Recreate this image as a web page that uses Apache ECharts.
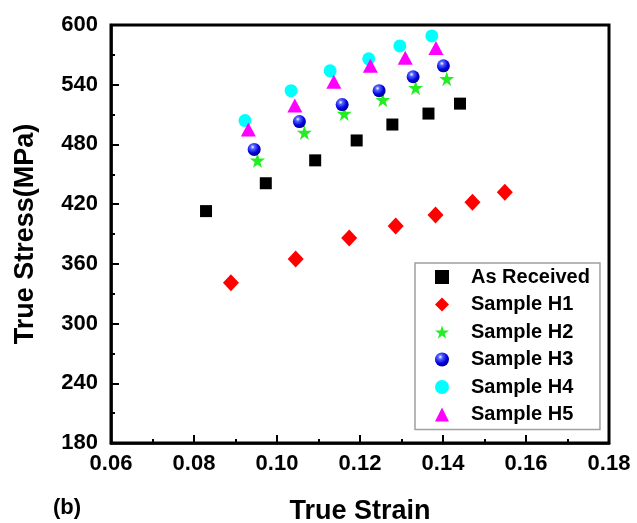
<!DOCTYPE html>
<html>
<head>
<meta charset="utf-8">
<script src="https://cdn.jsdelivr.net/npm/echarts@6/dist/echarts.min.js"></script>
<style>html,body{margin:0;padding:0;background:#fff}#c{width:637px;height:523px}</style>
</head>
<body>
<div id="c"></div>
<script>
var seriesNames = ['As Received', 'Sample H1', 'Sample H2', 'Sample H3', 'Sample H4', 'Sample H5'];
var asReceived = [[0.0829,413],[0.0973,441],[0.1092,464],[0.1192,484],[0.1278,500],[0.1365,511],[0.1441,521]];
var sampleH1 = [[0.0889,341],[0.1045,365],[0.1174,386],[0.1286,398],[0.1382,409],[0.1471,422],[0.1549,432]];
var sampleH2 = [[0.0953,464],[0.1066,492],[0.1162,511],[0.1255,525],[0.1334,537],[0.1409,546]];
var sampleH3 = [[0.0945,475],[0.1054,503],[0.1157,520],[0.1246,534],[0.1328,548],[0.1401,559]];
var sampleH4 = [[0.0923,504],[0.1034,534],[0.1128,554],[0.1221,566],[0.1296,579],[0.1373,589]];
var sampleH5 = [[0.0931,495],[0.1043,519],[0.1137,543],[0.1225,559],[0.1309,567],[0.1383,577]];
var xTicks = {min: 0.06, max: 0.18, interval: 0.02};
var yTicks = {min: 180, max: 600, interval: 60};

var FONT = '"Liberation Sans", Arial, sans-serif';
var starPath = 'path://M50,0 L61,35 L98,35 L68,57 L79,91 L50,70 L21,91 L32,57 L2,35 L39,35 Z';
var sphere = {type:'radial', x:0.38, y:0.32, r:0.72, colorStops:[
  {offset:0, color:'#ffffff'}, {offset:0.22, color:'#5566ff'},
  {offset:0.65, color:'#0000e0'}, {offset:1, color:'#000080'}]};

var chart = echarts.init(document.getElementById('c'));
chart.setOption({
  animation: false,
  backgroundColor: '#fff',
  grid: {left: 111, right: 28, top: 25, bottom: 80, show: true, borderColor: '#000', borderWidth: 3,
    backgroundColor: 'transparent', containLabel: false, outerBoundsMode: 'none'},
  xAxis: {
    type: 'value', min: xTicks.min, max: xTicks.max, interval: xTicks.interval,
    name: 'True Strain', nameLocation: 'middle', nameGap: 55,
    nameTextStyle: {fontFamily: FONT, fontWeight: 'bold', fontSize: 27, color: '#000'},
    axisLine: {lineStyle: {color: '#000', width: 2.5}},
    axisTick: {inside: true, length: 8, lineStyle: {color: '#000', width: 2}},
    minorTick: {show: true, splitNumber: 2, length: 4, lineStyle: {color: '#000', width: 2}},
    splitLine: {show: false},
    axisLabel: {margin: 10, fontFamily: FONT, fontWeight: 'bold', fontSize: 22, color: '#000',
      formatter: function (v) { return v.toFixed(2); }}
  },
  yAxis: {
    type: 'value', min: yTicks.min, max: yTicks.max, interval: yTicks.interval,
    name: 'True Stress(MPa)', nameLocation: 'middle', nameGap: 72,
    nameTextStyle: {fontFamily: FONT, fontWeight: 'bold', fontSize: 27, color: '#000'},
    axisLine: {lineStyle: {color: '#000', width: 2.5}},
    axisTick: {inside: true, length: 8, lineStyle: {color: '#000', width: 2}},
    minorTick: {show: true, splitNumber: 2, length: 4, lineStyle: {color: '#000', width: 2}},
    splitLine: {show: false},
    axisLabel: {margin: 13, fontFamily: FONT, fontWeight: 'bold', fontSize: 22, color: '#000'}
  },
  legend: {
    orient: 'vertical', left: 415, top: 263, width: 183,
    padding: [4, 10, 5, 20],
    backgroundColor: '#fff', borderColor: '#a0a0a0', borderWidth: 1.5, borderRadius: 0,
    itemWidth: 14, itemHeight: 14, itemGap: 7.5,
    textStyle: {fontFamily: FONT, fontWeight: 'bold', fontSize: 20, color: '#000', lineHeight: 20, padding: [0, 0, 0, 17]},
    data: seriesNames
  },
  graphic: [{type: 'text', left: 53, top: 497, style: {text: '(b)', fontFamily: FONT, fontWeight: 'bold', fontSize: 22, fill: '#000'}}],
  series: [
    {name: seriesNames[0], type: 'scatter', data: asReceived, symbol: 'rect', symbolSize: 12, itemStyle: {color: '#000', opacity: 1}},
    {name: seriesNames[1], type: 'scatter', data: sampleH1, symbol: 'diamond', symbolSize: [16, 17], itemStyle: {color: '#ff0000', opacity: 1}},
    {name: seriesNames[2], type: 'scatter', data: sampleH2, symbol: starPath, symbolSize: 15, itemStyle: {color: '#22ee22', opacity: 1}},
    {name: seriesNames[3], type: 'scatter', data: sampleH3, symbol: 'circle', symbolSize: 13, itemStyle: {color: sphere, opacity: 1}},
    {name: seriesNames[4], type: 'scatter', data: sampleH4, symbol: 'circle', symbolSize: 13, itemStyle: {color: '#00ffff', opacity: 1}},
    {name: seriesNames[5], type: 'scatter', data: sampleH5, symbol: 'triangle', symbolSize: [15, 14], itemStyle: {color: '#ff00ff', opacity: 1}}
  ]
});
</script>
</body>
</html>
